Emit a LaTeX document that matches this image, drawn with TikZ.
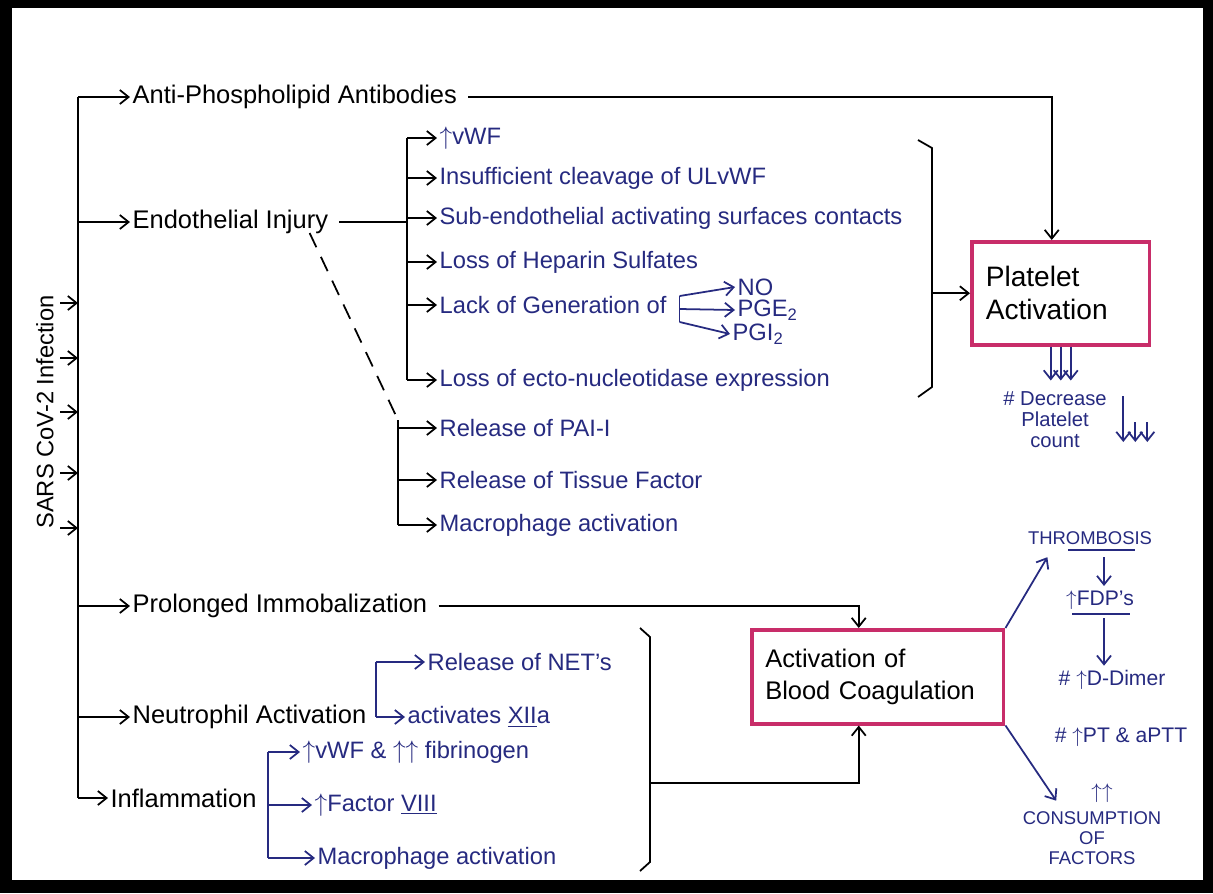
\documentclass[tikz,border=0pt]{standalone}
\usepackage{fontspec}
\setmainfont{Liberation Sans}
\usetikzlibrary{arrows.meta,calc,positioning}

\definecolor{ink}{RGB}{38,42,128}
\definecolor{boxpink}{RGB}{200,45,105}

\begin{document}
\begin{tikzpicture}[x=0.02cm,y=-0.02cm,
	main/.style={font=\fontsize{14.5}{17}\selectfont,anchor=west,inner sep=1pt},
	sub/.style={font=\fontsize{13.5}{16}\selectfont,text=ink,anchor=west,inner sep=1pt},
	caps/.style={font=\fontsize{10.5}{11.5}\selectfont,text=ink,align=center,inner sep=1pt},
	note/.style={font=\fontsize{12}{12.5}\selectfont,text=ink,align=center,inner sep=1pt},
	box/.style={draw=boxpink,line width=2pt,align=left,anchor=north west,inner sep=4pt},
	line width=1pt,->,>={Straight Barb[length=5pt,width=8pt]}]

	% frame
	\fill[black] (0,0) rectangle (1213,893);
	\fill[white] (12,8) rectangle (1203,880);

	\node[main,rotate=90,font=\fontsize{13.5}{16}\selectfont,anchor=center] (sars) at (45,412) {SARS CoV-2 Infection};

	\node[main] (anti) at (130,97) {Anti-Phospholipid Antibodies};
	\node[main] (endo) at (130,222) {Endothelial Injury};
	\node[main] (immo) at (130,606) {Prolonged Immobalization};
	\node[main] (neut) at (130,717) {Neutrophil Activation};
	\node[main] (infl) at (108,798) {Inflammation};

	\node[sub] (e1) at (437,138) {$\uparrow$vWF};
	\node[sub] (e2) at (437,178) {Insufficient cleavage of ULvWF};
	\node[sub] (e3) at (437,218) {Sub-endothelial activating surfaces contacts};
	\node[sub] (e4) at (437,262) {Loss of Heparin Sulfates};
	\node[sub] (e5) at (437,305) {Lack of Generation of};
	\node[sub] (e6) at (437,380) {Loss of ecto-nucleotidase expression};
	\node[sub] (no) at (735,287) {NO};
	\node[sub] (pge) at (735,310) {PGE\textsubscript{2}};
	\node[sub] (pgi) at (730,334) {PGI\textsubscript{2}};

	\node[sub] (p1) at (437,428) {Release of PAI-I};
	\node[sub] (p2) at (437,480) {Release of Tissue Factor};
	\node[sub] (p3) at (437,525) {Macrophage activation};

	\node[sub] (n1) at (425,662) {Release of NET's};
	\node[sub] (n2) at (405,717) {activates \underline{XII}a};
	\node[sub] (f1) at (300,752) {$\uparrow$vWF \& $\uparrow\uparrow$ fibrinogen};
	\node[sub] (f2) at (312,805) {$\uparrow$Factor \underline{VIII}};
	\node[sub] (f3) at (315,858) {Macrophage activation};

	\node[box,font=\fontsize{16}{19}\selectfont,minimum width=3.56cm,minimum height=2.06cm,text width=3.0cm] (plt) at (970,240) {Platelet\\Activation};
	\node[box,font=\fontsize{14.5}{18}\selectfont,minimum width=5.04cm,minimum height=1.88cm,text width=4.5cm] (coag) at (750,628) {Activation of\\Blood Coagulation};

	\node[note,font=\fontsize{11.5}{12}\selectfont] (dec) at (1055,420) {\# Decrease\\Platelet\\count};
	\node[caps] (thr) at (1090,538) {THROMBOSIS};
	\node[note] (fdp) at (1100,600) {$\uparrow$FDP's};
	\node[note] (dd) at (1112,680) {\# $\uparrow$D-Dimer};
	\node[note] (pt) at (1121,737) {\# $\uparrow$PT \& aPTT};
	\node[note] (upup) at (1102,793) {$\uparrow\uparrow$};
	\node[caps] (cons) at (1092,838) {CONSUMPTION\\OF\\FACTORS};

	% main trunk
	\coordinate (trunk) at (78,0);
	\draw[-] (trunk |- anti) -- (trunk |- infl);
	\foreach \n in {anti,endo,immo,neut,infl}
		\draw[->] (trunk |- \n) -- (\n.west);
	\foreach \y [count=\i] in {303,358,412,473,528} {
		\coordinate (in\i) at (60,\y);
		\draw[->] (in\i) -- (in\i -| trunk);
	}

	% endothelial injury
	\coordinate (eb) at (407,0);
	\draw[-] ([xshift=5pt]endo.east) -- (endo -| eb);
	\draw[-] (eb |- e1) -- (eb |- e6);
	\foreach \n in {e1,e2,e3,e4,e5,e6}
		\draw[->] (eb |- \n) -- (\n.west);

	\coordinate (gb) at ([xshift=6pt]e5.east);
	\draw[-,ink] ($(gb)+(0,-9)$) -- ($(gb)+(0,17)$);
	\draw[->,ink] ($(gb)+(0,-9)$) -- (no.west);
	\draw[->,ink] ($(gb)+(0,4)$) -- (pge.west);
	\draw[->,ink] ($(gb)+(0,17)$) -- (pgi.west);

	\coordinate (rbt) at (932,148);
	\coordinate (rbb) at (932,387);
	\draw[-] ($(rbt)+(-14,-8)$) -- (rbt) -- (rbb) -- ($(rbb)+(-14,10)$);
	\draw[->] (rbb |- plt.west) -- (plt.west);
	\draw[->] ([xshift=5pt]anti.east) -| ([xshift=-9*0.02cm]plt.north);

	\coordinate (pb) at (398,420);
	\draw[-,dashed,dash pattern=on 9pt off 6pt] ([xshift=-12pt,yshift=2pt]endo.south east) -- (pb);
	\draw[-] (pb) -- (pb |- p3);
	\foreach \n in {p1,p2,p3}
		\draw[->] (pb |- \n) -- (\n.west);

	% platelet count
	\foreach \dx in {-10,0,10}
		\draw[->,ink] ($(plt.south)+(\dx,0)$) -- ++(0,34);
	\draw[->,ink] ($(dec.east)+(14,-24)$) -- ++(0,46);
	\draw[->,ink] ($(dec.east)+(26,2)$) -- ++(0,20);
	\draw[->,ink] ($(dec.east)+(38,2)$) -- ++(0,20);

	% coagulation
	\draw[->] ([xshift=5pt]immo.east) -| ([xshift=-19*0.02cm]coag.north);
	\coordinate (nb) at ([xshift=4pt]neut.east);
	\draw[-,ink] (nb |- n1) -- (nb |- n2);
	\draw[->,ink] (nb |- n1) -- (n1.west);
	\draw[->,ink] (nb |- n2) -- (n2.west);
	\coordinate (ib) at (268,0);
	\draw[-,ink] (ib |- f1) -- (ib |- f3);
	\foreach \n in {f1,f2,f3}
		\draw[->,ink] (ib |- \n) -- (\n.west);
	\coordinate (cbt) at (650,637);
	\coordinate (cbb) at (650,862);
	\draw[-] ($(cbt)+(-10,-9)$) -- (cbt) -- (cbb) -- ($(cbb)+(-10,9)$);
	\draw[->] (cbt |- 0,783) -| ([xshift=-19*0.02cm]coag.south);

	\draw[->,ink] (coag.north east) -- ($(thr.south west)+(22,10)$);
	\draw[->,ink] (coag.south east) -- ($(cons.north west)+(36,-8)$);
	\draw[-,ink] ($(thr.south)+(-22,3)$) -- ($(thr.south)+(45,3)$);
	\draw[->,ink] ($(thr.south)+(14,10)$) -- ($(fdp.north)+(4,-2)$);
	\draw[-,ink] ($(fdp.south)+(-28,2)$) -- ($(fdp.south)+(30,2)$);
	\draw[->,ink] ($(fdp.south)+(4,6)$) -- ($(dd.north)+(-8,-2)$);
\end{tikzpicture}
\end{document}
